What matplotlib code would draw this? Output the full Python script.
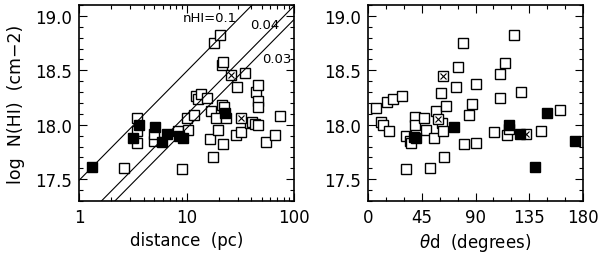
import numpy as np
import matplotlib
matplotlib.use("Agg")
import matplotlib.pyplot as plt
from matplotlib.ticker import MultipleLocator, FixedLocator, NullFormatter

# panel 1: distance (pc) vs log N(HI)
d_open = [2.62, 3.49, 3.49, 3.5, 4.98, 5.0, 8.4, 9.0, 10.2, 10.4, 11.7, 12.2, 12.9,
          13.5, 15.6, 16.8, 16.4, 17.6, 18.0, 20.4, 18.7, 19.8, 21.2, 22.0, 21.5,
          22.2, 21.9, 23.1, 29.7, 28.7, 31.9, 35.0, 38.7, 40.5, 43.0, 44.0, 46.6,
          46.0, 46.0, 46.0, 54.5, 66.6, 73.6]
n_open = [17.60, 18.06, 17.83, 17.94, 17.855, 17.915, 17.946, 17.59, 18.06, 17.95,
          18.09, 18.26, 18.24, 18.28, 18.245, 18.13, 17.87, 17.70, 18.75, 18.82,
          18.06, 17.955, 18.55, 18.58, 18.18, 18.16, 17.82, 18.06, 18.35, 17.91,
          17.93, 18.475, 18.02, 18.03, 18.01, 18.30, 18.365, 18.22, 18.16, 18.0,
          17.845, 17.905, 18.08]
d_cross = [25.8, 32.4]
n_cross = [18.457, 18.06]
d_fill = [1.33, 3.2, 3.6, 5.06, 5.96, 6.6, 8.5, 9.2, 23.0]
n_fill = [17.61, 17.88, 18.0, 17.98, 17.845, 17.915, 17.9, 17.88, 18.11]

# densities for the reference lines
dens = [0.1, 0.04, 0.03]
dens_labels = ["nHI=0.1", "0.04", "0.03"]
PC = 3.086e18

# panel 2: theta_d (degrees) vs log N(HI)
t_open = [7.0, 11.2, 12.6, 16.2, 17.6, 20.9, 28.7, 31.5, 31.5, 34.9, 36.3, 39.1, 39.1,
          46.9, 48.8, 52.2, 55.2, 57.2, 62.0, 62.8, 61.4, 63.6, 65.6, 74.0, 75.3,
          79.5, 80.0, 84.5, 86.8, 90.7, 90.7, 105.2, 110.2, 110.2, 114.4, 116.6,
          118.0, 122.2, 128.3, 145.0, 161.0]
m_open = [18.15, 18.03, 18.0, 18.21, 17.94, 18.24, 18.26, 17.90, 17.59, 17.85, 17.83,
          18.07, 18.0, 18.06, 17.95, 17.60, 17.875, 18.13, 18.02, 17.945, 18.29,
          17.70, 18.17, 18.35, 18.53, 18.75, 17.82, 18.09, 18.19, 18.37, 17.83,
          17.93, 18.47, 18.25, 18.57, 17.91, 17.96, 18.82, 18.30, 17.94, 18.14]
t_cross = [62.8, 58.6, 132.5]
m_cross = [18.45, 18.05, 17.915]
t_fill = [72.0, 40.5, 38.5, 118.0, 127.0, 149.6, 139.8, 173.6]
m_fill = [17.98, 17.88, 17.89, 18.0, 17.915, 18.11, 17.61, 17.85]

plt.rcParams["font.family"] = "DejaVu Sans"
fig = plt.figure(figsize=(6.0, 2.55), dpi=100)
ax1 = fig.add_axes([79 / 600, 1 - 202 / 255, 215 / 600, 196 / 255])
ax2 = fig.add_axes([368 / 600, 1 - 202 / 255, 215 / 600, 196 / 255])

ms = 6.6
mew = 1.0


def squares(ax, x, y, xc, yc, xf, yf):
    ax.plot(x, y, "s", ms=ms, mfc="white", mec="black", mew=mew, ls="none")
    ax.plot(xc, yc, "s", ms=ms, mfc="white", mec="black", mew=mew, ls="none")
    ax.plot(xc, yc, "x", ms=ms * 0.7, mec="black", mew=0.8, ls="none")
    ax.plot(xf, yf, "s", ms=ms, mfc="black", mec="black", mew=mew, ls="none")


squares(ax1, d_open, n_open, d_cross, n_cross, d_fill, n_fill)
dd = np.array([1.0, 100.0])
for n in dens:
    ax1.plot(dd, np.log10(n * dd * PC), color="black", lw=0.8)
# labels of the lines
ax1.annotate(dens_labels[0], xy=(183 / 600, 1 - 22 / 255), xycoords="figure fraction", fontsize=9.5)
ax1.annotate(dens_labels[1], xy=(250 / 600, 1 - 29 / 255), xycoords="figure fraction", fontsize=9.5)
ax1.annotate(dens_labels[2], xy=(262 / 600, 1 - 63 / 255), xycoords="figure fraction", fontsize=9.5)

ax1.set_xscale("log")
ax1.set_xlim(1, 100)
ax1.set_xticks([1, 10, 100])
ax1.set_xticklabels(["1", "10", "100"])
ax1.xaxis.set_minor_formatter(NullFormatter())
ax1.set_xlabel("distance  (pc)", fontsize=12, labelpad=4)
ax1.set_ylabel("log  N(HI)  (cm\u22122)", fontsize=12.5, labelpad=7)

squares(ax2, t_open, m_open, t_cross, m_cross, t_fill, m_fill)
ax2.set_xlim(0, 180)
ax2.xaxis.set_major_locator(MultipleLocator(45))
ax2.xaxis.set_minor_locator(MultipleLocator(15))
ax2.set_xlabel(r"$\theta$d  (degrees)", fontsize=12, labelpad=4)

for ax in (ax1, ax2):
    ax.set_ylim(17.3, 19.1)
    ax.yaxis.set_major_locator(FixedLocator([17.5, 18.0, 18.5, 19.0]))
    ax.yaxis.set_minor_locator(MultipleLocator(0.1))
    ax.set_yticklabels(["17.5", "18.0", "18.5", "19.0"])
    ax.tick_params(which="both", direction="in", top=True, right=True, labelsize=12, width=0.8)
    ax.tick_params(which="major", length=6, pad=5)
    ax.tick_params(which="minor", length=3)
    for s in ax.spines.values():
        s.set_linewidth(1.2)

fig.savefig("out.png", dpi=100)
